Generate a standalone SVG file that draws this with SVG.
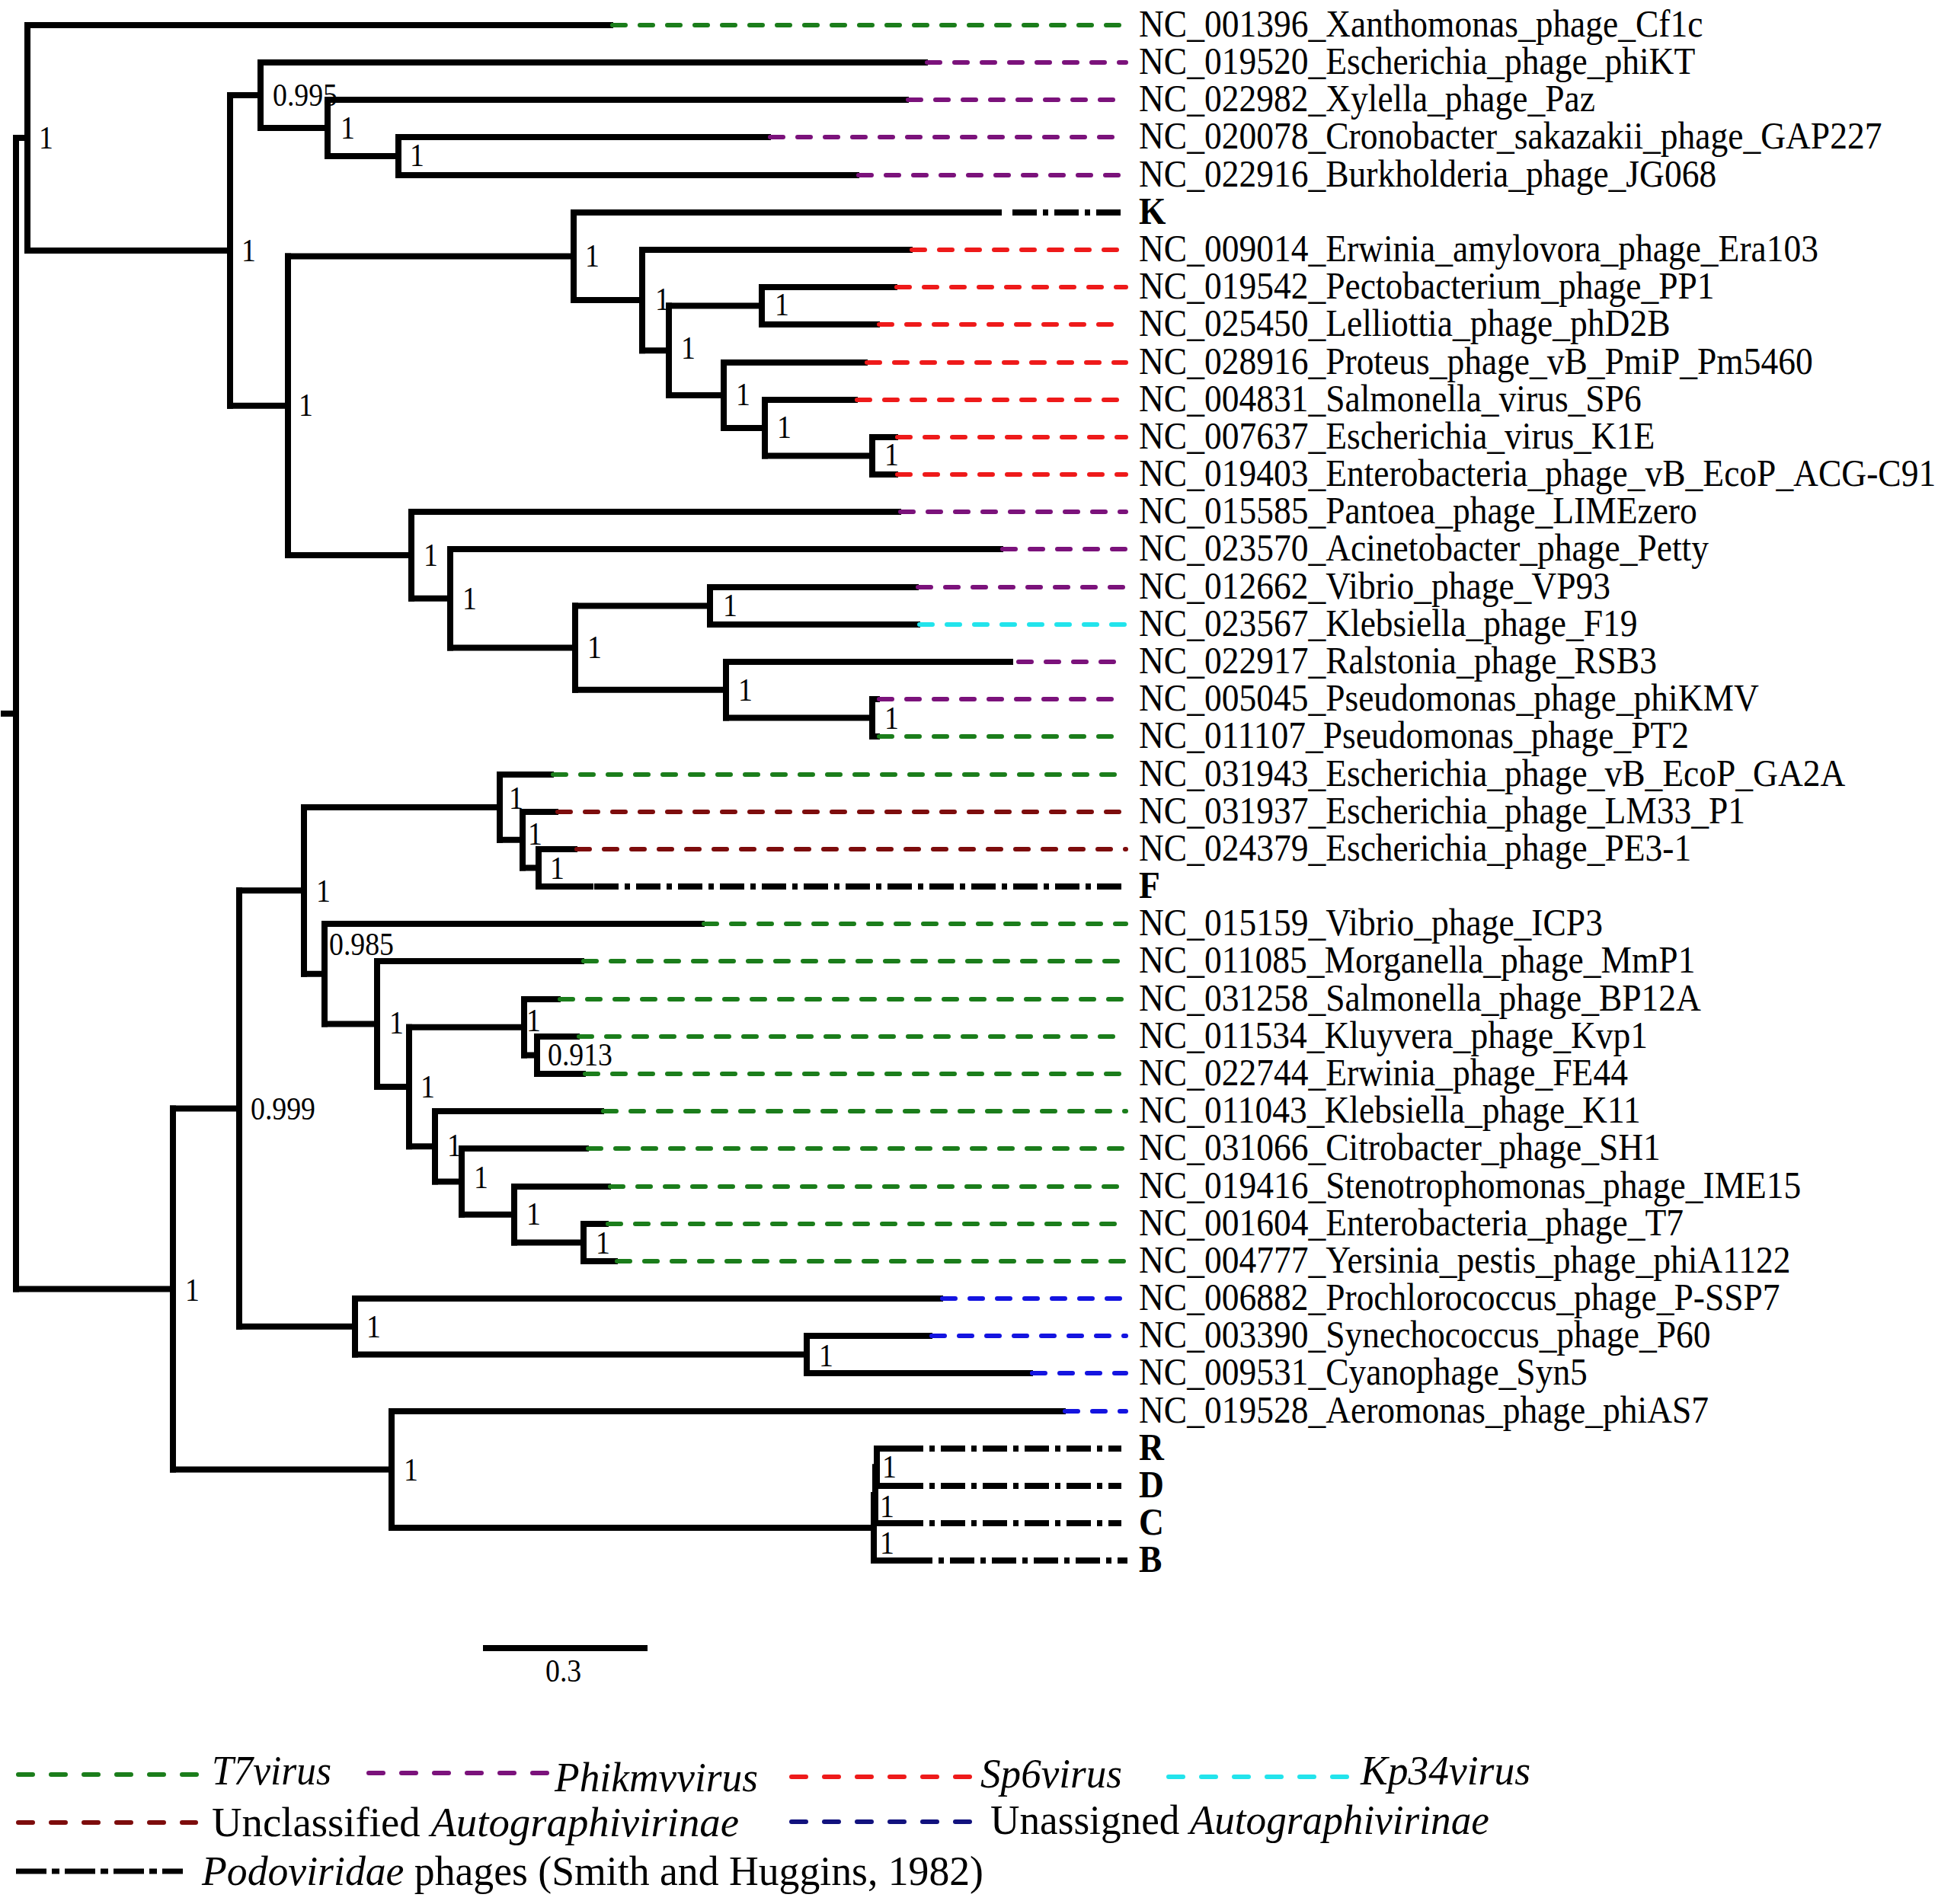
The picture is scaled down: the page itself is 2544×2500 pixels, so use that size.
<svg xmlns="http://www.w3.org/2000/svg" width="2544" height="2500" viewBox="0 0 2544 2500">
<style>
.br{stroke:#000;stroke-width:8;fill:none;stroke-linecap:square}
.d{stroke-width:6;fill:none;stroke-dasharray:17 19;stroke-linecap:round}
.dd{stroke:#000;stroke-width:8;fill:none;stroke-dasharray:32 8 7 8}
.ld{stroke-width:6;fill:none;stroke-dasharray:19 24;stroke-linecap:round}
.ldd{stroke:#000;stroke-width:7;fill:none;stroke-dasharray:40 7 10 7}
.g{stroke:#1b7d1b}.p{stroke:#7b127b}.r{stroke:#ee1a1a}.c{stroke:#22e4ec}.m{stroke:#7d0c0c}.b{stroke:#1414e0}.n{stroke:#12127e}
text{font-family:"Liberation Serif","Times New Roman",serif;fill:#000}
.lf{font-size:50px}
.bd{font-weight:bold}
.sv{font-size:42px}
.lg{font-size:55px}
.it{font-style:italic}
</style>
<rect width="2544" height="2500" fill="#fff"/>
<g id="connectors" class="br">
<path d="M5 937H21M21 181V1692.5"/>
<path d="M21 181H36M36 33V329M36 33H801"/>
<path d="M36 329H302M302 125V532.7"/>
<path d="M302 125H342M342 82V168M342 82H1214"/>
<path d="M342 168H430M430 131V205M430 131H1189"/>
<path d="M430 205H523M523 180V230M523 180H1008M523 230H1124"/>
<path d="M302 532.7H378M378 336.5V728.9"/>
<path d="M378 336.5H753M753 279V394M753 279H1311"/>
<path d="M753 394H843M843 328V460.3M843 328H1194"/>
<path d="M843 460.3H878M878 401.5V519"/>
<path d="M878 401.5H1000M1000 377V426M1000 377H1174M1000 426H1151"/>
<path d="M878 519H950M950 476V562M950 476H1135"/>
<path d="M950 562H1004M1004 525V598.5M1004 525H1122"/>
<path d="M1004 598.5H1145M1145 574V623M1145 574H1175M1145 623H1175"/>
<path d="M378 728.9H540M540 672V785.8M540 672H1179"/>
<path d="M540 785.8H591M591 721V850.6M591 721H1313"/>
<path d="M591 850.6H755M755 795.5V905.8"/>
<path d="M755 795.5H932M932 771V820M932 771H1202M932 820H1204"/>
<path d="M755 905.8H953M953 869V942.5M953 869H1326"/>
<path d="M953 942.5H1145M1145 918V967M1145 918H1151M1145 967H1151"/>
<path d="M21 1692.5H227M227 1455.5V1929.6"/>
<path d="M227 1455.5H314M314 1169.3V1741.8"/>
<path d="M314 1169.3H399M399 1059.9V1278.8"/>
<path d="M399 1059.9H656M656 1017V1102.8M656 1017H723"/>
<path d="M656 1102.8H686M686 1066V1139.5M686 1066H729"/>
<path d="M686 1139.5H707M707 1115V1164M707 1115H754M707 1164H775"/>
<path d="M399 1278.8H426M426 1213V1344.5M426 1213H921"/>
<path d="M426 1344.5H495M495 1262V1427M495 1262H763"/>
<path d="M495 1427H537M537 1348.8V1505.2"/>
<path d="M537 1348.8H688M688 1312V1385.5M688 1312H732"/>
<path d="M688 1385.5H705M705 1361V1410M705 1361H757M705 1410H765"/>
<path d="M537 1505.2H571M571 1459V1551.4M571 1459H789"/>
<path d="M571 1551.4H606M606 1508V1594.8M606 1508H769"/>
<path d="M606 1594.8H675M675 1558V1631.5M675 1558H798"/>
<path d="M675 1631.5H766M766 1607V1656M766 1607H795M766 1656H807"/>
<path d="M314 1741.8H466M466 1705V1778.5M466 1705H1234"/>
<path d="M466 1778.5H1059M1059 1754V1803M1059 1754H1220M1059 1803H1352"/>
<path d="M227 1929.6H514M514 1853V2006.1M514 1853H1395"/>
<path d="M514 2006.1H1147M1147 1963.3V2049M1147 2049H1188"/>
<path d="M1147 1963.3H1149M1149 1926.5V2000M1149 2000H1176"/>
<path d="M1149 1926.5H1151M1151 1902V1951M1151 1902H1176M1151 1951H1176"/>
</g>
<g id="support" class="sv">
<text transform="translate(51 195) scale(0.9 1)">1</text>
<text transform="translate(358 139) scale(0.9 1)">0.995</text>
<text transform="translate(447 182) scale(0.9 1)">1</text>
<text transform="translate(538 218) scale(0.9 1)">1</text>
<text transform="translate(317 343) scale(0.9 1)">1</text>
<text transform="translate(768 350) scale(0.9 1)">1</text>
<text transform="translate(860 407) scale(0.9 1)">1</text>
<text transform="translate(894 471) scale(0.9 1)">1</text>
<text transform="translate(1017 414) scale(0.9 1)">1</text>
<text transform="translate(966 532) scale(0.9 1)">1</text>
<text transform="translate(1020 575) scale(0.9 1)">1</text>
<text transform="translate(1161 611) scale(0.9 1)">1</text>
<text transform="translate(392 546) scale(0.9 1)">1</text>
<text transform="translate(556 743) scale(0.9 1)">1</text>
<text transform="translate(607 800) scale(0.9 1)">1</text>
<text transform="translate(771 864) scale(0.9 1)">1</text>
<text transform="translate(949 809) scale(0.9 1)">1</text>
<text transform="translate(969 920) scale(0.9 1)">1</text>
<text transform="translate(1161 957) scale(0.9 1)">1</text>
<text transform="translate(668 1062) scale(0.9 1)">1</text>
<text transform="translate(693 1109) scale(0.9 1)">1</text>
<text transform="translate(722 1154) scale(0.9 1)">1</text>
<text transform="translate(415 1184) scale(0.9 1)">1</text>
<text transform="translate(329 1470) scale(0.9 1)">0.999</text>
<text transform="translate(243 1708) scale(0.9 1)">1</text>
<text transform="translate(432 1254) scale(0.9 1)">0.985</text>
<text transform="translate(511 1357) scale(0.9 1)">1</text>
<text transform="translate(552 1441) scale(0.9 1)">1</text>
<text transform="translate(691 1354) scale(0.9 1)">1</text>
<text transform="translate(719 1399) scale(0.9 1)">0.913</text>
<text transform="translate(587 1518) scale(0.9 1)">1</text>
<text transform="translate(622 1560) scale(0.9 1)">1</text>
<text transform="translate(691 1608) scale(0.9 1)">1</text>
<text transform="translate(782 1646) scale(0.9 1)">1</text>
<text transform="translate(481 1756) scale(0.9 1)">1</text>
<text transform="translate(1075 1794) scale(0.9 1)">1</text>
<text transform="translate(530 1944) scale(0.9 1)">1</text>
<text transform="translate(1158 1940) scale(0.9 1)">1</text>
<text transform="translate(1155 1992) scale(0.9 1)">1</text>
<text transform="translate(1155 2040) scale(0.9 1)">1</text>
</g>
<g id="leaf01"><path class="d g" d="M804 33H1478"/><text class="lf" transform="translate(1495 48) scale(0.91 1)">NC_001396_Xanthomonas_phage_Cf1c</text></g>
<g id="leaf02"><path class="d p" d="M1217 82H1478"/><text class="lf" transform="translate(1495 97) scale(0.91 1)">NC_019520_Escherichia_phage_phiKT</text></g>
<g id="leaf03"><path class="d p" d="M1192 131H1478"/><text class="lf" transform="translate(1495 146) scale(0.91 1)">NC_022982_Xylella_phage_Paz</text></g>
<g id="leaf04"><path class="d p" d="M1011 180H1478"/><text class="lf" transform="translate(1495 195) scale(0.91 1)">NC_020078_Cronobacter_sakazakii_phage_GAP227</text></g>
<g id="leaf05"><path class="d p" d="M1127 230H1478"/><text class="lf" transform="translate(1495 245) scale(0.91 1)">NC_022916_Burkholderia_phage_JG068</text></g>
<g id="leaf06"><path class="dd" d="M1329 279H1478"/><text class="lf bd" transform="translate(1495 294) scale(0.91 1)">K</text></g>
<g id="leaf07"><path class="d r" d="M1197 328H1478"/><text class="lf" transform="translate(1495 343) scale(0.91 1)">NC_009014_Erwinia_amylovora_phage_Era103</text></g>
<g id="leaf08"><path class="d r" d="M1177 377H1478"/><text class="lf" transform="translate(1495 392) scale(0.91 1)">NC_019542_Pectobacterium_phage_PP1</text></g>
<g id="leaf09"><path class="d r" d="M1154 426H1478"/><text class="lf" transform="translate(1495 441) scale(0.91 1)">NC_025450_Lelliottia_phage_phD2B</text></g>
<g id="leaf10"><path class="d r" d="M1138 476H1478"/><text class="lf" transform="translate(1495 491) scale(0.91 1)">NC_028916_Proteus_phage_vB_PmiP_Pm5460</text></g>
<g id="leaf11"><path class="d r" d="M1125 525H1478"/><text class="lf" transform="translate(1495 540) scale(0.91 1)">NC_004831_Salmonella_virus_SP6</text></g>
<g id="leaf12"><path class="d r" d="M1178 574H1478"/><text class="lf" transform="translate(1495 589) scale(0.91 1)">NC_007637_Escherichia_virus_K1E</text></g>
<g id="leaf13"><path class="d r" d="M1178 623H1478"/><text class="lf" transform="translate(1495 638) scale(0.91 1)">NC_019403_Enterobacteria_phage_vB_EcoP_ACG-C91</text></g>
<g id="leaf14"><path class="d p" d="M1182 672H1478"/><text class="lf" transform="translate(1495 687) scale(0.91 1)">NC_015585_Pantoea_phage_LIMEzero</text></g>
<g id="leaf15"><path class="d p" d="M1316 721H1478"/><text class="lf" transform="translate(1495 736) scale(0.91 1)">NC_023570_Acinetobacter_phage_Petty</text></g>
<g id="leaf16"><path class="d p" d="M1205 771H1478"/><text class="lf" transform="translate(1495 786) scale(0.91 1)">NC_012662_Vibrio_phage_VP93</text></g>
<g id="leaf17"><path class="d c" d="M1207 820H1478"/><text class="lf" transform="translate(1495 835) scale(0.91 1)">NC_023567_Klebsiella_phage_F19</text></g>
<g id="leaf18"><path class="d p" d="M1337 869H1478"/><text class="lf" transform="translate(1495 884) scale(0.91 1)">NC_022917_Ralstonia_phage_RSB3</text></g>
<g id="leaf19"><path class="d p" d="M1154 918H1478"/><text class="lf" transform="translate(1495 933) scale(0.91 1)">NC_005045_Pseudomonas_phage_phiKMV</text></g>
<g id="leaf20"><path class="d g" d="M1154 967H1478"/><text class="lf" transform="translate(1495 982) scale(0.91 1)">NC_011107_Pseudomonas_phage_PT2</text></g>
<g id="leaf21"><path class="d g" d="M726 1017H1478"/><text class="lf" transform="translate(1495 1032) scale(0.91 1)">NC_031943_Escherichia_phage_vB_EcoP_GA2A</text></g>
<g id="leaf22"><path class="d m" d="M732 1066H1478"/><text class="lf" transform="translate(1495 1081) scale(0.91 1)">NC_031937_Escherichia_phage_LM33_P1</text></g>
<g id="leaf23"><path class="d m" d="M757 1115H1478"/><text class="lf" transform="translate(1495 1130) scale(0.91 1)">NC_024379_Escherichia_phage_PE3-1</text></g>
<g id="leaf24"><path class="dd" d="M780 1164H1478"/><text class="lf bd" transform="translate(1495 1179) scale(0.91 1)">F</text></g>
<g id="leaf25"><path class="d g" d="M924 1213H1478"/><text class="lf" transform="translate(1495 1228) scale(0.91 1)">NC_015159_Vibrio_phage_ICP3</text></g>
<g id="leaf26"><path class="d g" d="M766 1262H1478"/><text class="lf" transform="translate(1495 1277) scale(0.91 1)">NC_011085_Morganella_phage_MmP1</text></g>
<g id="leaf27"><path class="d g" d="M735 1312H1478"/><text class="lf" transform="translate(1495 1327) scale(0.91 1)">NC_031258_Salmonella_phage_BP12A</text></g>
<g id="leaf28"><path class="d g" d="M760 1361H1478"/><text class="lf" transform="translate(1495 1376) scale(0.91 1)">NC_011534_Kluyvera_phage_Kvp1</text></g>
<g id="leaf29"><path class="d g" d="M768 1410H1478"/><text class="lf" transform="translate(1495 1425) scale(0.91 1)">NC_022744_Erwinia_phage_FE44</text></g>
<g id="leaf30"><path class="d g" d="M792 1459H1478"/><text class="lf" transform="translate(1495 1474) scale(0.91 1)">NC_011043_Klebsiella_phage_K11</text></g>
<g id="leaf31"><path class="d g" d="M772 1508H1478"/><text class="lf" transform="translate(1495 1523) scale(0.91 1)">NC_031066_Citrobacter_phage_SH1</text></g>
<g id="leaf32"><path class="d g" d="M801 1558H1478"/><text class="lf" transform="translate(1495 1573) scale(0.91 1)">NC_019416_Stenotrophomonas_phage_IME15</text></g>
<g id="leaf33"><path class="d g" d="M798 1607H1478"/><text class="lf" transform="translate(1495 1622) scale(0.91 1)">NC_001604_Enterobacteria_phage_T7</text></g>
<g id="leaf34"><path class="d g" d="M810 1656H1478"/><text class="lf" transform="translate(1495 1671) scale(0.91 1)">NC_004777_Yersinia_pestis_phage_phiA1122</text></g>
<g id="leaf35"><path class="d b" d="M1237 1705H1478"/><text class="lf" transform="translate(1495 1720) scale(0.91 1)">NC_006882_Prochlorococcus_phage_P-SSP7</text></g>
<g id="leaf36"><path class="d b" d="M1223 1754H1478"/><text class="lf" transform="translate(1495 1769) scale(0.91 1)">NC_003390_Synechococcus_phage_P60</text></g>
<g id="leaf37"><path class="d b" d="M1355 1803H1478"/><text class="lf" transform="translate(1495 1818) scale(0.91 1)">NC_009531_Cyanophage_Syn5</text></g>
<g id="leaf38"><path class="d b" d="M1398 1853H1478"/><text class="lf" transform="translate(1495 1868) scale(0.91 1)">NC_019528_Aeromonas_phage_phiAS7</text></g>
<g id="leaf39"><path class="dd" d="M1180 1902H1472"/><text class="lf bd" transform="translate(1495 1917) scale(0.91 1)">R</text></g>
<g id="leaf40"><path class="dd" d="M1180 1951H1472"/><text class="lf bd" transform="translate(1495 1966) scale(0.91 1)">D</text></g>
<g id="leaf41"><path class="dd" d="M1180 2000H1472"/><text class="lf bd" transform="translate(1495 2015) scale(0.91 1)">C</text></g>
<g id="leaf42"><path class="dd" d="M1192 2049H1480"/><text class="lf bd" transform="translate(1495 2064) scale(0.91 1)">B</text></g>
<g id="scalebar">
<path d="M634 2164H850" stroke="#000" stroke-width="8"/>
<text class="sv" transform="translate(716 2208) scale(0.9 1)">0.3</text>
</g>
<g id="legend">
<path class="ld g" d="M24 2330H261"/>
<text class="lg it" x="278" y="2343" textLength="157" lengthAdjust="spacingAndGlyphs">T7virus</text>
<path class="ld p" d="M484 2328H726"/>
<text class="lg it" x="728" y="2352" textLength="267" lengthAdjust="spacingAndGlyphs">Phikmvvirus</text>
<path class="ld r" d="M1039 2333H1279"/>
<text class="lg it" x="1287" y="2347" textLength="186" lengthAdjust="spacingAndGlyphs">Sp6virus</text>
<path class="ld c" d="M1534 2333H1770"/>
<text class="lg it" x="1786" y="2343" textLength="223" lengthAdjust="spacingAndGlyphs">Kp34virus</text>
<path class="ld m" d="M24 2393H257"/>
<text class="lg" x="278" y="2411" textLength="692" lengthAdjust="spacingAndGlyphs">Unclassified <tspan class="it">Autographivirinae</tspan></text>
<path class="ld n" d="M1039 2392H1279"/>
<text class="lg" x="1300" y="2408" textLength="655" lengthAdjust="spacingAndGlyphs">Unassigned <tspan class="it">Autographivirinae</tspan></text>
<path class="ldd" d="M21 2457H240"/>
<text class="lg" x="265" y="2475" textLength="1026" lengthAdjust="spacingAndGlyphs"><tspan class="it">Podoviridae</tspan> phages (Smith and Huggins, 1982)</text>
</g>
</svg>
